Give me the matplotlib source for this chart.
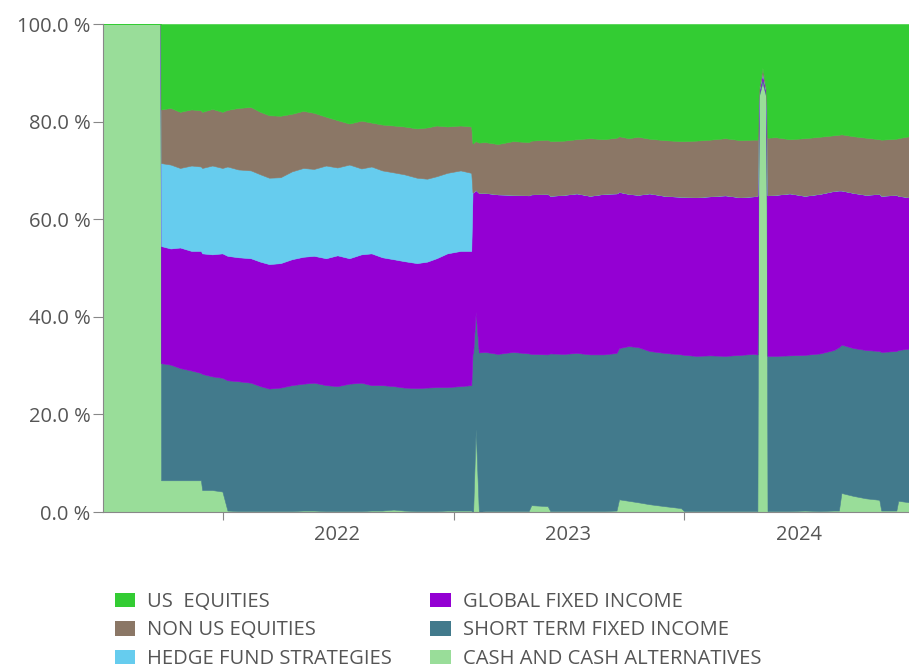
import numpy as np
import pandas as pd
import matplotlib
matplotlib.use("Agg")
import matplotlib.pyplot as plt
from matplotlib.patches import Patch
from matplotlib.ticker import FuncFormatter

plt.rcParams["font.family"] = ["Open Sans", "DejaVu Sans"]

# cumulative tops of each band in % (bottom to top)
dates = [
    "2021-06-25", "2021-09-24", "2021-09-25", "2021-10-10", "2021-10-25", "2021-11-12",
    "2021-11-27", "2021-11-29", "2021-12-15", "2021-12-31", "2022-01-08", "2022-01-25",
    "2022-02-14", "2022-03-01", "2022-03-15", "2022-04-02", "2022-04-20", "2022-05-08",
    "2022-05-25", "2022-06-13", "2022-07-01", "2022-07-20", "2022-08-08", "2022-08-24",
    "2022-09-10", "2022-09-28", "2022-10-15", "2022-11-04", "2022-11-20", "2022-12-05",
    "2022-12-22", "2023-01-12", "2023-01-29", "2023-01-31", "2023-02-01", "2023-02-05",
    "2023-02-10", "2023-02-20", "2023-03-12", "2023-04-05", "2023-04-30", "2023-05-04",
    "2023-05-30", "2023-06-03", "2023-06-25", "2023-07-15", "2023-08-05", "2023-08-27",
    "2023-09-16", "2023-09-20", "2023-10-05", "2023-10-20", "2023-11-07", "2023-12-01",
    "2023-12-27", "2024-01-01", "2024-01-20", "2024-02-11", "2024-03-06", "2024-03-30",
    "2024-04-20", "2024-04-26", "2024-04-28", "2024-05-04", "2024-05-10", "2024-05-12",
    "2024-05-25", "2024-06-16", "2024-07-10", "2024-08-03", "2024-08-25", "2024-09-02",
    "2024-09-06", "2024-09-25", "2024-10-15", "2024-11-05", "2024-11-08", "2024-12-02",
    "2024-12-05", "2024-12-22",
]

cash_top = [
    100, 100, 6.5, 6.5, 6.5, 6.5,
    6.5, 4.5, 4.5, 4.2, 0.3, 0.2,
    0.2, 0.2, 0.2, 0.2, 0.2, 0.3,
    0.3, 0.2, 0.2, 0.2, 0.2, 0.3,
    0.3, 0.5, 0.3, 0.2, 0.2, 0.2,
    0.3, 0.3, 0.3, 0.0, 0.0, 17.0,
    0.0, 0.2, 0.2, 0.2, 0.2, 1.4,
    1.2, 0.2, 0.2, 0.2, 0.2, 0.2,
    0.3, 2.6, 2.3, 2.0, 1.6, 1.2,
    0.8, 0.2, 0.2, 0.2, 0.2, 0.2,
    0.2, 0.2, 85.0, 88.0, 85.0, 0.2,
    0.2, 0.2, 0.3, 0.2, 0.3, 0.3,
    3.9, 3.3, 2.8, 2.5, 0.3, 0.3,
    2.3, 2.0,
]

short_term_top = [
    100, 100, 30.5, 30.2, 29.5, 29.0,
    28.5, 28.3, 27.8, 27.5, 27.0, 26.8,
    26.5, 25.8, 25.3, 25.5, 26.0, 26.3,
    26.5, 26.0, 25.8, 26.3, 26.5, 26.0,
    26.0, 25.8, 25.5, 25.4, 25.5, 25.6,
    25.6, 25.8, 26.0, 32.6, 32.6, 41.0,
    32.7, 32.8, 32.4, 32.8, 32.5, 32.4,
    32.3, 32.5, 32.4, 32.6, 32.3, 32.3,
    32.6, 33.6, 34.0, 33.8, 33.0, 32.6,
    32.3, 32.2, 32.0, 32.1, 32.0, 32.2,
    32.4, 32.3, 85.5, 89.0, 85.5, 32.0,
    32.0, 32.1, 32.2, 32.5, 33.2, 33.8,
    34.3, 33.6, 33.2, 33.0, 32.8, 33.0,
    33.2, 33.5,
]

global_fi_top = [
    100, 100, 54.5, 54.0, 54.2, 53.5,
    53.5, 53.0, 52.8, 53.0, 52.5, 52.2,
    52.0, 51.3, 50.8, 51.0, 51.8, 52.3,
    52.5, 52.0, 52.6, 52.0, 52.8, 53.0,
    52.2, 51.8, 51.4, 51.0, 51.3, 52.0,
    53.0, 53.5, 53.5, 65.5, 65.5, 66.0,
    65.4, 65.4, 65.1, 65.0, 64.9, 65.1,
    65.2, 64.8, 65.0, 65.3, 64.8, 65.2,
    65.3, 65.6, 65.2, 65.0, 65.3, 64.8,
    64.6, 64.6, 64.5, 64.7, 64.9, 64.5,
    64.7, 64.8, 86.0, 90.0, 86.0, 64.9,
    65.0, 65.3, 64.8, 65.2, 65.8, 65.9,
    65.9, 65.4, 65.0, 65.2, 64.8, 65.0,
    64.8, 64.5,
]

hedge_top = [
    100, 100, 71.5, 71.2, 70.5, 71.0,
    70.8, 70.5, 71.0, 70.5, 70.8, 70.2,
    70.0, 69.2, 68.5, 68.6, 69.8, 70.5,
    70.3, 71.0, 70.6, 71.2, 70.4, 70.8,
    70.0, 69.6, 69.2, 68.5, 68.3, 68.8,
    69.5, 70.0, 69.5, 65.5, 65.5, 66.0,
    65.4, 65.4, 65.1, 65.0, 64.9, 65.1,
    65.2, 64.8, 65.0, 65.3, 64.8, 65.2,
    65.3, 65.6, 65.2, 65.0, 65.3, 64.8,
    64.6, 64.6, 64.5, 64.7, 64.9, 64.5,
    64.7, 64.8, 86.0, 90.0, 86.0, 64.9,
    65.0, 65.3, 64.8, 65.2, 65.8, 65.9,
    65.9, 65.4, 65.0, 65.2, 64.8, 65.0,
    64.8, 64.5,
]

non_us_top = [
    100, 100, 82.5, 82.8, 82.0, 82.5,
    82.3, 82.0, 82.6, 82.0, 82.4, 82.8,
    83.0, 82.0, 81.3, 81.2, 81.6, 82.2,
    81.8, 81.0, 80.3, 79.6, 80.2, 79.8,
    79.4, 79.2, 79.0, 78.6, 78.8, 79.2,
    79.0, 79.2, 79.0, 75.5, 75.6, 76.0,
    75.7, 75.8, 75.4, 76.0, 75.8, 76.1,
    76.3, 76.0, 76.1, 76.4, 76.6, 76.4,
    76.7, 77.0, 76.6, 76.9, 76.5, 76.2,
    76.0, 76.0, 76.1, 76.3, 76.6, 76.2,
    76.3, 76.3, 86.5, 91.0, 86.5, 76.7,
    76.8, 76.4, 76.6, 76.9, 77.2, 77.3,
    77.4, 77.0, 76.7, 76.4, 76.3, 76.5,
    76.6, 77.0,
]

us_top = [100] * len(dates)

year_ticks = ["2022-01-01", "2023-01-01", "2024-01-01"]
year_label_pos = ["2022-07-01", "2023-07-01", "2024-07-01"]
year_labels = ["2022", "2023", "2024"]

labels = ["CASH AND CASH ALTERNATIVES", "SHORT TERM FIXED INCOME", "GLOBAL FIXED INCOME",
          "HEDGE FUND STRATEGIES", "NON US EQUITIES", "US  EQUITIES"]
colors = ["#99dd99", "#427a8c", "#9400d3", "#66ccee", "#8b7766", "#33cc33"]

x = pd.to_datetime(dates)
tops = np.vstack([cash_top, short_term_top, global_fi_top, hedge_top, non_us_top, us_top])
layers = np.diff(np.vstack([np.zeros(len(dates)), tops]), axis=0)

fig = plt.figure(figsize=(9.09, 6.69), dpi=100)
ax = fig.add_axes([103 / 909, 1 - 512 / 669, 806 / 909, 488 / 669])

polys = ax.stackplot(x, layers, colors=colors, linewidth=0.4)
for p, c in zip(polys, colors):
    p.set_edgecolor(c)

ax.set_xlim(x[0], x[-1])
ax.set_ylim(0, 100)
ax.set_yticks(range(0, 101, 20))
ax.yaxis.set_major_formatter(FuncFormatter(lambda v, _: f"{v:.1f} %"))

# tick marks at year starts, labels mid-year
ax.set_xticks(pd.to_datetime(year_ticks))
ax.set_xticklabels([])
ax.set_xticks(pd.to_datetime(year_label_pos), minor=True)
ax.set_xticklabels(year_labels, minor=True)
ax.tick_params(axis="x", which="major", length=6, color="#888888")
ax.tick_params(axis="x", which="minor", length=0, pad=9, labelsize=14.5, labelcolor="#555555")
ax.tick_params(axis="y", length=7, color="#888888", labelsize=14.5, labelcolor="#555555", pad=2)

for side in ["top", "right"]:
    ax.spines[side].set_visible(False)
for side in ["left", "bottom"]:
    ax.spines[side].set_color("#888888")

# legend laid out in two columns like the original
order = [5, 4, 3, 2, 1, 0]
handles = [Patch(facecolor=colors[i], edgecolor="none") for i in order]
fig.legend(handles, [labels[i] for i in order], ncol=2, loc="upper left",
           bbox_to_anchor=(115 / 909, 1 - 592 / 669), frameon=False,
           fontsize=14.5, labelcolor="#555555", borderpad=0, borderaxespad=0,
           handlelength=1.0, handleheight=0.75, handletextpad=0.6,
           columnspacing=1.9, labelspacing=0.42)

fig.savefig("out.png", dpi=100)
